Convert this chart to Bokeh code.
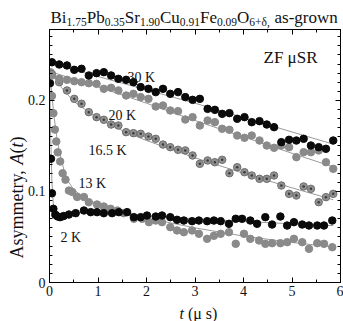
import math
from bokeh.plotting import figure
from bokeh.models import LinearAxis, Range1d, FixedTicker, CustomJSTickFormatter
from bokeh.core.properties import value
from bokeh.embed import file_html
from bokeh.resources import INLINE

# ---------------- data ----------------
t_common = [0.05, 0.20, 0.36, 0.51, 0.66, 0.81, 0.97, 1.12, 1.27, 1.42,
            1.58, 1.73, 1.88, 2.04, 2.19, 2.34, 2.49, 2.65, 2.80, 2.95,
            3.10, 3.26, 3.41, 3.56, 3.71, 3.87, 4.02, 4.17, 4.33, 4.48,
            4.63, 4.78, 4.94, 5.09, 5.24, 5.39, 5.55, 5.70, 5.85]

a_30K = [0.242, 0.2396, 0.2385, 0.2337, 0.2348, 0.2275, 0.2300, 0.2311, 0.2275, 0.2238,
         0.2227, 0.2201, 0.2147, 0.2128, 0.2092, 0.2128, 0.2073, 0.2092, 0.2037, 0.2007,
         0.2018, 0.1908, 0.1897, 0.1853, 0.1861, 0.1799, 0.1817, 0.1762, 0.1773, 0.1736,
         0.1707, 0.1542, 0.1568, 0.1560, 0.1579, 0.1505, 0.1487, 0.1469, 0.1560]

a_20K = [0.2275, 0.2238, 0.2227, 0.2212, 0.2201, 0.2190, 0.2183, 0.2128, 0.2139, 0.2110,
         0.2055, 0.2073, 0.2037, 0.2018, 0.1934, 0.1945, 0.1890, 0.1883, 0.1791, 0.1817,
         0.1725, 0.1780, 0.1762, 0.1689, 0.1678, 0.1615, 0.1590, 0.1615, 0.1560, 0.1505,
         0.1480, 0.1505, 0.1487, 0.1377, 0.1432, 0.1432, 0.1451, 0.1322, 0.1249]

a_16K = [0.2290, 0.2201, 0.2110, 0.2018, 0.1964, 0.1872, 0.1817, 0.1788, 0.1736, 0.1725,
         0.1652, 0.1641, 0.1634, 0.1604, 0.1579, 0.1516, 0.1487, 0.1458, 0.1451, 0.1396,
         0.1304, 0.1341, 0.1322, 0.1348, 0.1201, 0.1267, 0.1212, 0.1176, 0.1139, 0.1139,
         0.1176, 0.1066, 0.0974, 0.0956, 0.1055, 0.1029, 0.0883, 0.0938, 0.0974]

t_13K = [0.02, 0.05, 0.08, 0.11, 0.14, 0.17, 0.22, 0.27, 0.33, 0.40,
         0.47, 0.57, 0.71, 0.81, 0.98, 1.12, 1.26, 1.40, 1.53, 1.74,
         1.91, 2.05, 2.19, 2.32, 2.49, 2.63, 2.77, 2.94, 3.08, 3.25,
         3.39, 3.53, 3.70, 3.84, 4.01, 4.14, 4.32, 4.45, 4.59, 4.76,
         4.90, 5.04, 5.21, 5.35, 5.52, 5.66, 5.83]
a_13K = [0.231, 0.205, 0.186, 0.168, 0.155, 0.143, 0.133, 0.120, 0.113, 0.101,
         0.0994, 0.094, 0.094, 0.0882, 0.0857, 0.0835, 0.081, 0.0791, 0.0762, 0.070,
         0.070, 0.0663, 0.0681, 0.0663, 0.0608, 0.0572, 0.0553, 0.0572, 0.0535, 0.048,
         0.0513, 0.0535, 0.0553, 0.0425, 0.0535, 0.048, 0.0462, 0.0425, 0.0432, 0.0432,
         0.0443, 0.048, 0.0443, 0.037, 0.0432, 0.0425, 0.0388]

t_2K = [0.01, 0.03, 0.05, 0.08, 0.12, 0.17, 0.22, 0.29, 0.40, 0.54,
        0.71, 0.85, 0.98, 1.12, 1.29, 1.43, 1.60, 1.74, 1.88, 2.01,
        2.19, 2.32, 2.49, 2.63, 2.77, 2.94, 3.08, 3.25, 3.39, 3.53,
        3.70, 3.84, 3.97, 4.14, 4.28, 4.45, 4.59, 4.76, 4.90, 5.04,
        5.21, 5.35, 5.52, 5.66, 5.83]
a_2K = [0.219, 0.136, 0.098, 0.081, 0.0745, 0.0725, 0.0718, 0.0730, 0.0747, 0.0762,
        0.0791, 0.0773, 0.0773, 0.0762, 0.0762, 0.0773, 0.0773, 0.0718, 0.0718, 0.0736,
        0.0725, 0.0736, 0.0718, 0.0689, 0.0681, 0.0674, 0.0681, 0.0674, 0.0681, 0.0674,
        0.0645, 0.0700, 0.0700, 0.0681, 0.0645, 0.0718, 0.0637, 0.0725, 0.0626, 0.0663,
        0.0637, 0.0626, 0.0626, 0.0626, 0.0681]

# fitted curves
fit30_t = [0, 3, 5.85]
fit30_a = [0.241, 0.197, 0.152]
fit20_t = [0, 1, 2, 3, 4, 5, 5.85]
fit20_a = [0.232, 0.215, 0.197, 0.178, 0.160, 0.142, 0.127]
fit16_t = [0, 0.25, 0.5, 1, 1.5, 2, 3, 4, 5, 5.85]
fit16_a = [0.236, 0.214, 0.199, 0.180, 0.167, 0.156, 0.137, 0.120, 0.104, 0.091]
fit13_t = [0, 0.05, 0.1, 0.15, 0.2, 0.3, 0.4, 0.5, 0.75, 1, 1.5, 2, 3, 4, 5, 5.85]
fit13_a = [0.236, 0.205, 0.180, 0.160, 0.145, 0.123, 0.110, 0.102, 0.092, 0.086,
           0.078, 0.071, 0.060, 0.051, 0.044, 0.039]
fit2_t = [0, 0.02, 0.05, 0.08, 0.12, 0.2, 0.35, 0.6, 1, 2, 3, 4, 5, 5.85]
fit2_a = [0.236, 0.17, 0.11, 0.085, 0.076, 0.073, 0.074, 0.0765, 0.0765, 0.0735,
          0.070, 0.067, 0.0645, 0.0625]

x_ticks = [0, 1, 2, 3, 4, 5, 6]
y_ticks = [0, 0.1, 0.2]
series_labels = ["30 K", "20 K", "16.5 K", "13 K", "2 K"]
title_elements = ["Bi", "Pb", "Sr", "Cu", "Fe", "O"]
title_subscripts = ["1.75", "0.35", "1.90", "0.91", "0.09", "6+δ,"]
title_tail = "as-grown"

# ---------------- figure ----------------
FONT = "Liberation Serif"
W, H = 343, 321
p = figure(width=W, height=H, x_range=Range1d(0, 6), y_range=Range1d(0, 0.278),
           output_backend="svg", toolbar_location=None,
           min_border_left=49, min_border_right=3, min_border_top=29, min_border_bottom=39)
p.grid.visible = False
p.outline_line_color = "black"
p.background_fill_color = "white"
p.border_fill_color = "white"

xt = FixedTicker(ticks=x_ticks, minor_ticks=[i * 0.5 for i in range(13)])
yt = FixedTicker(ticks=y_ticks, minor_ticks=[i * 0.01 for i in range(28)])

def style_axis(ax, show_labels):
    ax.axis_line_color = "black"
    ax.major_tick_line_color = "black"
    ax.minor_tick_line_color = "black"
    ax.major_tick_in = 5
    ax.major_tick_out = 0
    ax.minor_tick_in = 3
    ax.minor_tick_out = 0
    ax.major_label_text_font = FONT
    ax.major_label_text_color = "#111111"
    if show_labels:
        ax.major_label_text_font_size = "14px"
    else:
        ax.formatter = CustomJSTickFormatter(code="return ''")
        ax.major_label_text_font_size = "1px"
        ax.major_label_standoff = 0

p.xaxis.ticker = xt
p.yaxis.ticker = yt
style_axis(p.xaxis[0], True)
style_axis(p.yaxis[0], True)
p.xaxis.major_label_standoff = 3
p.yaxis.major_label_standoff = 4
p.yaxis.major_label_overrides = {0: "0"}

ax_r = LinearAxis(ticker=yt)
style_axis(ax_r, False)
p.add_layout(ax_r, "right")
ax_t = LinearAxis(ticker=xt)
style_axis(ax_t, False)
p.add_layout(ax_t, "above")

# ---------------- fits ----------------
for ft, fa in [(fit30_t, fit30_a), (fit20_t, fit20_a), (fit16_t, fit16_a),
               (fit13_t, fit13_a), (fit2_t, fit2_a)]:
    p.line(ft, fa, line_color="#9a9a9a", line_width=1)

# ---------------- points ----------------
BLACK = "#0a0a0a"
GRAY = "#8a8a8a"
p.scatter(t_13K, a_13K, size=7.5, fill_color=GRAY, line_color=GRAY)
p.scatter(t_2K, a_2K, size=7.5, fill_color=BLACK, line_color=BLACK)
p.scatter(t_common, a_16K, size=7.5, fill_color="#909090", line_color="#6e6e6e")
p.scatter(t_common, a_16K, size=2.5, fill_color="#3a3a3a", line_color=None)
p.scatter(t_common, a_20K, size=7.5, fill_color=GRAY, line_color=GRAY)
p.scatter(t_common, a_30K, size=7.5, fill_color=BLACK, line_color=BLACK)

# ---------------- helpers: canvas px -> data ----------------
def X(px):
    return (px - 49) / 48.5

def Y(py):
    return (282 - py) / 910

EM = {'B': .667, 'i': .278, 'P': .556, 'b': .5, 'S': .556, 'r': .333, 'C': .667,
      'u': .5, 'F': .556, 'e': .444, 'O': .722, ',': .25, ' ': .25, 'a': .444,
      's': .389, '-': .333, 'g': .5, 'o': .5, 'w': .722, 'n': .5, '.': .25,
      '+': .564, 'δ': .5, 'A': .722, 'y': .5, 'm': .778, 't': .278, '(': .333,
      ')': .333, 'μ': .5}

def text_w(s, size):
    return sum(EM.get(c, .5) for c in s) * size

def lab(x, y, text, size, style="normal", angle=0, color="#111111"):
    p.text(x=[x], y=[y], text=[text], text_font=value(FONT),
           text_font_size=value(f"{size}px"), text_font_style=style, angle=angle,
           text_align="left", text_baseline="alphabetic", text_color=color,
           level="overlay")

# series labels
label_pos = [(127, 77), (108, 115), (88, 150), (78, 183), (60, 237)]
for txt, (lx, ly) in zip(series_labels, label_pos):
    lab(X(lx), Y(ly), txt, 14)
lab(X(263), Y(57), "ZF μSR", 17)

# title with subscripts
M, S = 17, 11.5
cx = 50
for el, sub in zip(title_elements, title_subscripts):
    lab(X(cx), Y(17), el, M)
    cx += text_w(el, M)
    lab(X(cx), Y(21.5), sub, S)
    cx += text_w(sub, S)
cx += text_w(" ", M)
lab(X(cx), Y(17), title_tail, M)

# y axis label (rotated)
YS = 18
cy = 258
for txt, sty, adv in [("Asymmetry,", "normal", text_w("Asymmetry, ", YS)),
                      ("A", "italic", .611 * YS), ("(", "normal", text_w("(", YS)),
                      ("t", "italic", text_w("t", YS)), (")", "normal", 0)]:
    lab(X(16), Y(cy), txt, YS, style=sty, angle=math.pi / 2)
    cy -= adv

# x axis label
XS = 16
lab(X(179), Y(313), "t", XS, style="italic")
lab(X(179 + text_w("t ", XS)), Y(313), "(μ s)", XS)

open("out.html", "w").write(file_html(p, INLINE))
